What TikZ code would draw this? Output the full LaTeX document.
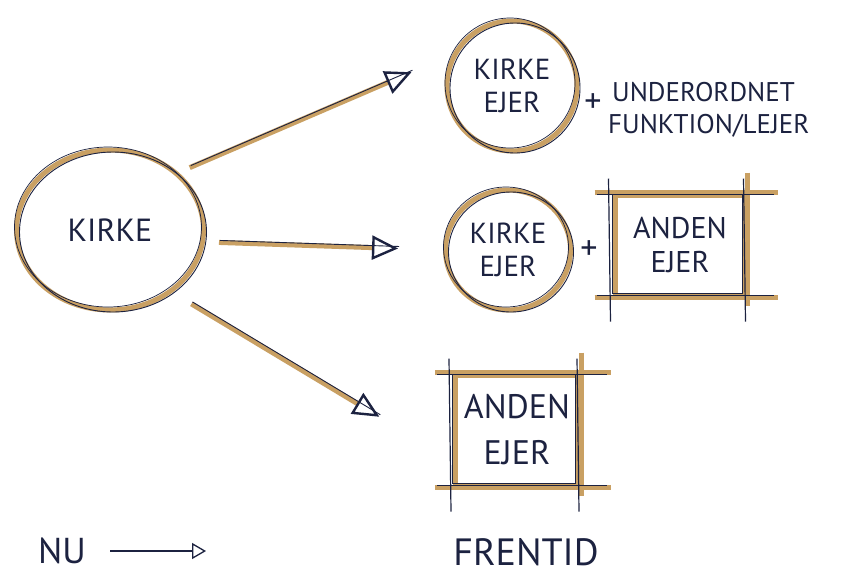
\documentclass[tikz,border=0pt]{standalone}
\usepackage{fontspec}
\setmainfont{PT Sans}
\usetikzlibrary{shapes.geometric,positioning,arrows.meta}
\definecolor{ochre}{HTML}{C9A063}
\definecolor{ink}{HTML}{1C2240}

\begin{document}
\begin{tikzpicture}[
  x=1pt,y=-1pt,
  church/.style={ellipse,draw=ochre,line width=5pt,inner sep=0pt,align=center,text=ink,
    postaction={draw=ink,line width=0.9pt,transform canvas={shift={(3pt,-2pt)}}},
    postaction={draw=ink,line width=0.7pt,transform canvas={shift={(-2pt,3pt)}}}},
  owner/.style={rectangle,draw=ochre,line width=5pt,inner sep=0pt,align=center,text=ink,
    postaction={draw=ink,line width=1pt,transform canvas={shift={(-3pt,2pt)}}}},
  overhang/.style={ochre,line width=5pt},
  inkline/.style={ink,line width=1.2pt},
  hand/.style={text=ink,inner sep=0pt,align=left},
  flow/.style={draw=ochre,line width=5pt,
    -{Triangle[open,length=26pt,width=24pt,line width=2.4pt,color=ink]},
    postaction={draw=ink,line width=0.9pt,-,transform canvas={shift={(1pt,2pt)}}}},
  timeline/.style={ink,line width=1.3pt,
    -{Triangle[open,length=14pt,width=16pt,line width=1.3pt]}}
]
  \fill[white] (0,0) rectangle (861,582);

  \node[church,minimum width=187pt,minimum height=160pt,font=\fontsize{32}{34}\selectfont]
    (kirke) at (110,230) {KIRKE};
  \node[church,minimum width=130pt,minimum height=130pt,font=\fontsize{29}{33}\selectfont]
    (kirkeA) at (512,86) {KIRKE\\EJER};
  \node[church,minimum width=125pt,minimum height=120pt,font=\fontsize{29}{33}\selectfont]
    (kirkeB) at (508,250) {KIRKE\\EJER};
  \node[owner,minimum width=130pt,minimum height=100pt,font=\fontsize{30}{34}\selectfont]
    (andenB) at (680,245) {ANDEN\\EJER};
  \node[owner,minimum width=123pt,minimum height=110pt,font=\fontsize{34}{46}\selectfont]
    (andenC) at (517,430) {ANDEN\\EJER};

  \node[hand,font=\fontsize{34}{34}\selectfont] (plusA) at (593,103) {+};
  \node[hand,anchor=west,font=\fontsize{27}{32}\selectfont] (role) at (608,110)
    {\hspace*{4pt}UNDERORDNET\\FUNKTION/LEJER};
  \node[hand,font=\fontsize{34}{34}\selectfont] (plusB) at (589,250) {+};

  \node[hand,font=\fontsize{36}{36}\selectfont] (nu) at (62,551) {NU};
  \coordinate (later) at (206,551);
  \node[hand,font=\fontsize{38}{38}\selectfont] (fremtid) at (526,552) {FRENTID};

  \foreach \b in {andenB,andenC} {
    \draw[overhang] ([xshift=-18pt]\b.north west) -- ([xshift=30pt]\b.north east);
    \draw[overhang] ([xshift=-18pt]\b.south west) -- ([xshift=30pt]\b.south east);
    \draw[overhang] ([yshift=20pt]\b.north east) -- ([yshift=-8pt]\b.south east);
    \draw[inkline] ([xshift=-4pt,yshift=14pt]\b.north west) -- ([xshift=-2pt,yshift=-24pt]\b.south west);
    \draw[inkline] ([xshift=-4pt,yshift=14pt]\b.north east) -- ([xshift=-2pt,yshift=-24pt]\b.south east);
    \draw[inkline] ([xshift=-16pt,yshift=-2pt]\b.north west) -- ([xshift=26pt,yshift=-2pt]\b.north east);
    \draw[inkline] ([xshift=-16pt,yshift=2pt]\b.south west) -- ([xshift=26pt,yshift=2pt]\b.south east);
  }

  \draw[flow,shorten <=12pt,shorten >=36pt] (kirke.40) -- ([yshift=28pt]kirkeA.west);
  \draw[flow,shorten <=13pt,shorten >=45pt] ([yshift=-12pt]kirke.east) -- (kirkeB.west);
  \draw[flow,shorten <=22pt,shorten >=86pt] (kirke.-45) -- ([yshift=-31pt]andenC.west);
  \draw[timeline,shorten <=24pt] (nu) -- (later);
\end{tikzpicture}
\end{document}
